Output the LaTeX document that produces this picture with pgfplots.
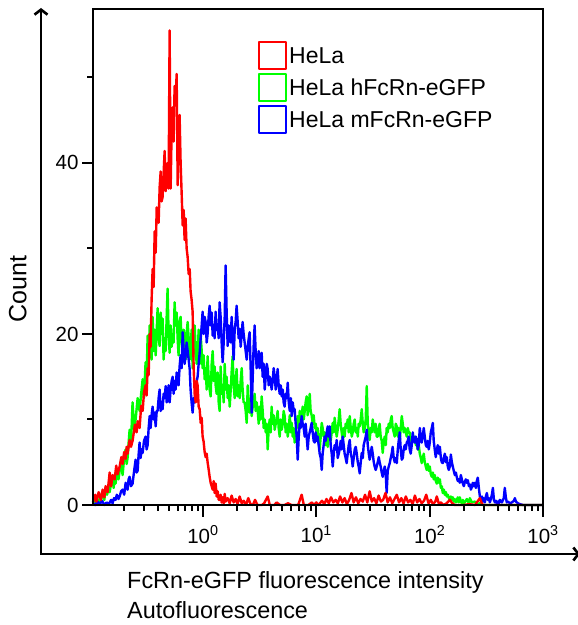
\documentclass[border=0pt]{standalone}
\usepackage{fontspec}
\setmainfont{Liberation Sans}
\usepackage{pgfplots}
\pgfplotsset{compat=1.18}
\usetikzlibrary{arrows.meta,calc}
\begin{document}
\begin{tikzpicture}
\begin{axis}[
  scale only axis, width=450pt, height=496pt,
  xmin=-0.97, xmax=3, ymin=0, ymax=58,
  clip=false,
  axis line style={draw=none},
  tick pos=left, tick align=outside,
  tick style={draw=none},
  major tick length=11pt, minor tick length=6pt,
  xtick={0,1,2,3},
  xticklabels={10\textsuperscript{0},10\textsuperscript{1},10\textsuperscript{2},10\textsuperscript{3}},
  ytick={0,20,40},
  /pgf/number format/assume math mode=true,
  tick label style={font=\fontsize{20.5}{24}\selectfont},
  xticklabel style={yshift=-6pt},
  ylabel={Count},
  ylabel style={font=\fontsize{25}{30}\selectfont, at={(axis description cs:-0.167,0.435)}, anchor=center},
  xlabel={FcRn-eGFP fluorescence intensity\\Autofluorescence},
  xlabel style={font=\fontsize{23.4}{30}\selectfont, align=left, inner sep=0pt,
    at={(axis description cs:0.0756,-0.133)}, anchor=north west},
  legend style={draw=none, fill=none, font=\fontsize{23}{27}\selectfont,
    at={(axis description cs:0.3667,0.935)}, anchor=north west, inner sep=0pt,
    row sep=3pt, nodes={inner sep=2pt}},
  legend cell align=left,
  legend image code/.code={\draw[#1, line width=2pt, fill=none] (0pt,-13.5pt) rectangle (27pt,13.5pt);},
  every axis plot/.append style={line width=2.4pt, line join=round},
]
\addlegendimage{red}\addlegendentry{HeLa}
\addlegendimage{green}\addlegendentry{HeLa hFcRn-eGFP}
\addlegendimage{blue}\addlegendentry{HeLa mFcRn-eGFP}
% HeLa hFcRn-eGFP
\addplot[green, forget plot] coordinates {
(-0.97,0.3) (-0.96,1.0) (-0.947,0.2) (-0.935,0.8) (-0.92,0.3) (-0.912,0.5) (-0.90,1.2) (-0.885,1.0) (-0.87,0.6) (-0.859,1.8)
(-0.845,1.2) (-0.835,2.4) (-0.823,1.5) (-0.81,2.6) (-0.797,3.3) (-0.788,2.0) (-0.779,3.2) (-0.771,2.5) (-0.76,3.8) (-0.745,3.0)
(-0.735,4.0) (-0.722,5.2) (-0.709,3.5) (-0.695,5.5) (-0.682,6.5) (-0.673,4.8) (-0.665,5.5) (-0.656,7.2) (-0.647,8.8) (-0.635,7.0)
(-0.621,12.0) (-0.607,9.0) (-0.594,10.0) (-0.576,12.5) (-0.559,11.0) (-0.545,13.0) (-0.532,14.7) (-0.52,12.5) (-0.506,16.7) (-0.497,14.8)
(-0.488,19.8) (-0.479,16.5) (-0.470,21.0) (-0.462,18.5) (-0.453,17.0) (-0.444,22.0) (-0.435,18.0) (-0.426,20.5) (-0.417,17.5) (-0.400,23.0)
(-0.391,19.5) (-0.382,18.6) (-0.373,22.5) (-0.365,20.0) (-0.356,21.8) (-0.347,17.0) (-0.338,19.5) (-0.329,18.0) (-0.320,22.0) (-0.312,25.3)
(-0.303,20.0) (-0.294,17.8) (-0.285,21.0) (-0.276,18.5) (-0.267,20.0) (-0.259,19.0) (-0.250,23.7) (-0.241,21.0) (-0.232,22.5) (-0.223,19.4)
(-0.215,17.5) (-0.206,21.5) (-0.197,22.0) (-0.188,19.0) (-0.179,18.0) (-0.170,20.5) (-0.162,19.8) (-0.153,17.0) (-0.144,20.0) (-0.135,21.4)
(-0.126,19.5) (-0.117,17.0) (-0.109,18.0) (-0.100,20.5) (-0.091,16.0) (-0.082,18.5) (-0.073,21.0) (-0.064,18.0) (-0.055,16.5) (-0.047,17.4)
(-0.038,20.5) (-0.029,16.5) (-0.020,19.8) (-0.011,18.0) (-0.003,16.0) (0.006,17.5) (0.015,14.7) (0.024,16.0) (0.033,13.5) (0.041,17.4)
(0.050,15.0) (0.059,13.5) (0.068,12.7) (0.077,16.5) (0.086,18.0) (0.095,14.5) (0.103,16.2) (0.112,14.0) (0.121,13.0) (0.130,15.5)
(0.139,12.0) (0.147,11.0) (0.156,16.2) (0.165,13.0) (0.174,14.0) (0.183,12.0) (0.192,16.5) (0.200,13.5) (0.209,15.0) (0.218,12.5)
(0.227,14.0) (0.236,11.5) (0.245,13.5) (0.253,15.5) (0.262,17.4) (0.271,14.0) (0.280,12.5) (0.289,14.5) (0.297,15.9) (0.306,12.7)
(0.315,14.0) (0.324,12.5) (0.333,14.5) (0.342,16.0) (0.350,13.5) (0.359,12.0) (0.368,12.0) (0.377,11.0) (0.386,9.6) (0.395,14.0)
(0.404,12.0) (0.412,10.8) (0.421,12.5) (0.430,10.4) (0.439,11.5) (0.447,12.0) (0.456,13.0) (0.465,11.0) (0.474,12.0) (0.483,11.0)
(0.492,9.5) (0.500,11.5) (0.509,10.0) (0.518,12.7) (0.527,11.0) (0.536,9.0) (0.545,10.0) (0.554,8.5) (0.563,9.5) (0.571,6.5)
(0.580,9.0) (0.589,10.0) (0.598,8.5) (0.606,11.5) (0.615,9.5) (0.624,10.5) (0.633,8.8) (0.642,9.5) (0.650,10.0) (0.659,11.0)
(0.668,9.0) (0.677,8.0) (0.686,10.0) (0.695,8.8) (0.704,9.5) (0.712,11.0) (0.721,10.4) (0.730,8.5) (0.739,9.5) (0.748,8.0)
(0.757,9.0) (0.766,10.5) (0.775,8.5) (0.783,9.6) (0.792,8.0) (0.801,9.0) (0.809,7.3) (0.818,8.5) (0.827,9.5) (0.836,10.4)
(0.845,9.0) (0.854,11.0) (0.862,9.5) (0.871,10.5) (0.880,11.5) (0.889,10.0) (0.898,11.0) (0.906,12.0) (0.915,12.7) (0.924,10.5)
(0.933,11.5) (0.942,13.0) (0.950,11.0) (0.959,10.5) (0.968,9.6) (0.977,10.5) (0.986,9.0) (0.995,9.5) (1.003,8.0) (1.012,9.0)
(1.021,7.5) (1.030,6.5) (1.039,8.0) (1.048,9.6) (1.056,9.0) (1.065,8.0) (1.074,8.5) (1.083,7.0) (1.092,8.0) (1.101,6.8)
(1.110,8.5) (1.118,9.0) (1.127,7.5) (1.136,8.5) (1.145,9.6) (1.154,8.5) (1.162,10.2) (1.171,9.0) (1.180,8.0) (1.189,8.8)
(1.198,10.0) (1.206,11.2) (1.215,9.5) (1.224,8.5) (1.233,7.6) (1.242,9.0) (1.250,8.0) (1.259,9.5) (1.268,9.0) (1.277,10.0)
(1.286,8.5) (1.295,10.4) (1.304,9.0) (1.313,8.0) (1.321,8.5) (1.330,9.5) (1.339,10.0) (1.348,8.5) (1.357,9.0) (1.366,8.0)
(1.374,9.5) (1.383,9.2) (1.392,10.0) (1.401,11.2) (1.410,9.5) (1.418,8.5) (1.427,9.0) (1.436,10.0) (1.445,13.9) (1.454,9.5)
(1.463,8.5) (1.471,7.6) (1.480,9.0) (1.489,8.5) (1.498,10.0) (1.507,9.0) (1.515,8.5) (1.524,9.5) (1.533,8.0) (1.542,8.0)
(1.551,9.0) (1.559,9.5) (1.568,8.0) (1.577,7.5) (1.586,6.1) (1.595,7.5) (1.604,8.0) (1.613,7.0) (1.621,9.0) (1.630,8.5)
(1.639,9.5) (1.648,9.0) (1.657,10.0) (1.665,10.4) (1.674,9.0) (1.683,8.5) (1.692,8.0) (1.701,9.5) (1.710,9.2) (1.719,8.0)
(1.727,9.0) (1.736,7.5) (1.745,9.0) (1.754,10.4) (1.763,9.5) (1.771,8.5) (1.780,9.0) (1.789,8.5) (1.798,8.0) (1.807,9.0)
(1.815,8.5) (1.824,8.5) (1.833,7.8) (1.842,7.3) (1.851,8.0) (1.860,7.5) (1.869,8.0) (1.878,7.0) (1.886,7.6) (1.895,6.5)
(1.904,7.0) (1.913,6.0) (1.922,5.5) (1.930,4.9) (1.939,5.5) (1.948,6.0) (1.957,5.0) (1.966,4.5) (1.974,4.1) (1.983,4.8)
(1.992,4.0) (2.001,4.5) (2.010,3.6) (2.019,3.3) (2.028,3.8) (2.036,3.0) (2.045,3.5) (2.054,2.8) (2.063,2.5) (2.072,3.2)
(2.081,2.6) (2.090,3.0) (2.099,2.0) (2.107,2.2) (2.116,1.4) (2.125,1.8) (2.134,1.2) (2.143,1.5) (2.151,1.0) (2.160,1.2)
(2.169,0.8) (2.178,0.6) (2.187,1.0) (2.196,0.6) (2.204,0.9) (2.213,0.4) (2.222,0.7) (2.231,0.3) (2.239,0.5) (2.248,0.9)
(2.257,0.3) (2.266,0.9) (2.275,0.4) (2.284,0.2) (2.293,0.6) (2.302,0.2) (2.310,0.3) (2.328,0.7) (2.346,0.2) (2.355,0.8)
(2.372,0.3) (2.399,0.4) (2.420,0.1) (2.443,0.2) (2.470,0.0) (3.000,0.0)
};
% HeLa mFcRn-eGFP
\addplot[blue, forget plot] coordinates {
(-0.97,0.2) (-0.95,0.0) (-0.93,0.4) (-0.91,0.1) (-0.89,0.5) (-0.87,0.0) (-0.85,0.3) (-0.83,0.1) (-0.81,0.6) (-0.797,0.2)
(-0.785,0.8) (-0.771,0.6) (-0.760,1.2) (-0.745,0.7) (-0.735,1.0) (-0.722,1.6) (-0.709,1.8) (-0.695,1.2) (-0.682,2.6) (-0.673,2.0)
(-0.665,1.8) (-0.656,3.0) (-0.647,3.3) (-0.635,2.2) (-0.621,2.5) (-0.607,4.0) (-0.594,5.3) (-0.585,3.8) (-0.576,4.0) (-0.568,5.8)
(-0.559,7.3) (-0.550,5.5) (-0.541,6.5) (-0.532,6.1) (-0.520,7.5) (-0.506,8.0) (-0.497,6.5) (-0.488,7.0) (-0.479,9.0) (-0.470,10.4)
(-0.462,9.0) (-0.453,10.5) (-0.444,11.5) (-0.435,10.0) (-0.426,10.8) (-0.417,9.2) (-0.408,11.0) (-0.400,11.0) (-0.391,12.5) (-0.382,13.5)
(-0.373,11.0) (-0.365,12.0) (-0.356,11.2) (-0.347,13.0) (-0.338,12.5) (-0.329,13.9) (-0.320,12.0) (-0.312,12.5) (-0.303,14.0) (-0.294,12.0)
(-0.285,13.5) (-0.276,14.5) (-0.267,15.0) (-0.259,13.0) (-0.250,14.5) (-0.241,13.5) (-0.232,15.5) (-0.223,15.0) (-0.215,14.0) (-0.206,16.2)
(-0.197,17.5) (-0.188,16.0) (-0.179,20.2) (-0.170,18.0) (-0.162,16.5) (-0.153,17.4) (-0.144,19.0) (-0.135,18.0) (-0.126,17.0) (-0.117,15.9)
(-0.109,13.5) (-0.100,12.0) (-0.091,10.8) (-0.082,12.5) (-0.073,12.0) (-0.064,13.9) (-0.055,14.5) (-0.047,15.0) (-0.038,16.5) (-0.029,17.8)
(-0.020,19.5) (-0.011,21.0) (-0.003,22.6) (0.006,20.0) (0.015,22.0) (0.024,21.4) (0.033,19.0) (0.041,20.0) (0.050,22.0) (0.059,23.3)
(0.068,21.0) (0.077,22.5) (0.086,19.8) (0.095,21.0) (0.103,19.5) (0.112,22.6) (0.121,20.5) (0.130,21.0) (0.139,19.5) (0.147,23.7)
(0.156,22.0) (0.165,19.0) (0.174,16.7) (0.183,19.0) (0.192,22.0) (0.200,28.0) (0.209,22.5) (0.218,18.6) (0.227,21.0) (0.236,20.0)
(0.245,19.0) (0.253,22.0) (0.262,19.5) (0.271,17.0) (0.280,20.5) (0.289,21.5) (0.297,23.3) (0.306,21.5) (0.315,19.5) (0.324,20.6)
(0.333,18.5) (0.342,20.0) (0.350,21.4) (0.359,20.0) (0.368,19.0) (0.377,18.0) (0.386,17.0) (0.395,18.5) (0.404,19.5) (0.412,20.2)
(0.421,16.0) (0.430,10.8) (0.439,15.0) (0.447,18.5) (0.456,21.0) (0.465,18.0) (0.474,16.0) (0.483,16.7) (0.492,18.0) (0.500,16.0)
(0.509,17.0) (0.518,17.8) (0.527,15.0) (0.536,16.5) (0.545,13.5) (0.554,15.0) (0.563,16.5) (0.571,15.9) (0.580,14.0) (0.589,15.0)
(0.598,14.5) (0.606,13.5) (0.615,14.5) (0.624,16.0) (0.633,15.0) (0.642,13.5) (0.650,14.5) (0.659,15.9) (0.668,14.0) (0.677,13.0)
(0.686,14.0) (0.695,12.7) (0.704,13.5) (0.712,12.0) (0.721,11.5) (0.730,13.0) (0.739,12.5) (0.748,14.3) (0.757,12.0) (0.766,11.0)
(0.775,12.5) (0.783,10.4) (0.792,12.0) (0.801,11.0) (0.809,11.2) (0.818,9.5) (0.827,8.0) (0.836,5.3) (0.845,8.0) (0.854,9.5)
(0.862,9.0) (0.871,10.4) (0.880,9.5) (0.889,9.0) (0.898,8.0) (0.906,9.5) (0.915,8.0) (0.924,6.5) (0.933,8.0) (0.942,8.5)
(0.950,9.0) (0.959,9.6) (0.968,8.5) (0.977,7.5) (0.986,7.3) (0.995,8.5) (1.003,7.5) (1.012,8.0) (1.021,7.0) (1.030,6.0)
(1.039,5.5) (1.048,4.1) (1.056,6.0) (1.065,7.0) (1.074,8.0) (1.083,7.5) (1.092,8.5) (1.101,9.2) (1.110,8.0) (1.118,9.2)
(1.127,7.0) (1.136,6.0) (1.145,4.5) (1.154,6.0) (1.162,7.0) (1.171,6.5) (1.180,7.6) (1.189,5.5) (1.198,6.0) (1.206,6.5)
(1.215,7.5) (1.224,6.5) (1.233,8.0) (1.242,7.0) (1.250,6.0) (1.259,5.5) (1.268,4.9) (1.277,6.0) (1.286,7.0) (1.295,7.6)
(1.304,6.0) (1.313,5.5) (1.321,4.5) (1.330,5.5) (1.339,6.5) (1.348,6.8) (1.357,6.0) (1.366,5.0) (1.374,4.5) (1.383,3.7)
(1.392,5.0) (1.401,6.1) (1.410,5.5) (1.418,7.0) (1.427,7.5) (1.436,8.0) (1.445,8.8) (1.454,7.0) (1.463,6.0) (1.471,5.3)
(1.480,6.0) (1.489,6.8) (1.498,6.0) (1.507,5.0) (1.515,4.5) (1.524,4.1) (1.533,4.5) (1.542,5.0) (1.551,5.6) (1.559,5.0)
(1.568,4.5) (1.577,3.8) (1.586,3.3) (1.595,4.0) (1.604,4.5) (1.613,3.5) (1.621,1.4) (1.630,4.0) (1.639,4.5) (1.648,4.9)
(1.657,5.5) (1.665,6.0) (1.674,6.8) (1.683,5.5) (1.692,5.0) (1.701,5.5) (1.710,4.9) (1.719,6.5) (1.727,7.5) (1.736,8.5)
(1.745,6.5) (1.754,5.3) (1.763,5.5) (1.771,6.5) (1.780,7.0) (1.789,6.5) (1.798,7.3) (1.807,7.5) (1.815,8.0) (1.824,6.5)
(1.833,6.0) (1.842,7.0) (1.851,8.5) (1.860,7.5) (1.869,7.3) (1.878,8.0) (1.886,7.6) (1.895,6.5) (1.904,7.0) (1.913,9.0)
(1.922,8.0) (1.930,7.3) (1.939,8.0) (1.948,9.0) (1.957,8.0) (1.966,7.0) (1.974,6.8) (1.983,7.5) (1.992,6.5) (2.001,7.3)
(2.010,8.5) (2.019,9.0) (2.028,9.6) (2.036,7.5) (2.045,6.5) (2.054,5.6) (2.063,6.5) (2.072,7.0) (2.081,6.0) (2.090,6.8)
(2.099,5.5) (2.107,5.0) (2.116,4.9) (2.125,5.5) (2.134,6.0) (2.143,5.0) (2.151,5.6) (2.160,4.5) (2.169,4.1) (2.178,4.5)
(2.187,5.9) (2.196,5.0) (2.204,4.5) (2.213,4.0) (2.222,3.5) (2.231,3.8) (2.239,3.3) (2.248,2.8) (2.257,3.0) (2.266,2.6)
(2.275,3.5) (2.284,3.0) (2.293,2.5) (2.302,2.2) (2.310,2.7) (2.319,3.0) (2.328,2.6) (2.337,2.9) (2.346,2.2) (2.355,2.4)
(2.364,1.8) (2.372,2.1) (2.381,2.6) (2.390,2.2) (2.399,2.6) (2.408,2.0) (2.416,2.8) (2.425,3.2) (2.434,2.0) (2.443,1.0)
(2.452,0.6) (2.461,1.0) (2.469,0.4) (2.478,0.8) (2.487,0.3) (2.496,1.0) (2.505,1.4) (2.514,0.6) (2.523,0.8) (2.531,0.3)
(2.540,0.7) (2.549,1.2) (2.558,2.0) (2.567,0.6) (2.576,0.3) (2.585,0.5) (2.593,0.2) (2.602,0.4) (2.611,0.2) (2.619,0.6)
(2.637,0.3) (2.654,0.8) (2.663,2.0) (2.672,0.9) (2.681,0.3) (2.690,0.4) (2.708,0.2) (2.725,0.3) (2.743,0.5) (2.752,0.8)
(2.761,0.4) (2.779,0.2) (2.796,0.1) (2.823,0.0) (3.000,0.0)
};
% HeLa
\addplot[red, forget plot] coordinates {
(-0.97,0.3) (-0.95,1.2) (-0.94,0.4) (-0.92,1.5) (-0.90,0.6) (-0.885,1.8) (-0.87,0.9) (-0.859,2.2) (-0.841,1.5) (-0.823,3.8)
(-0.81,2.2) (-0.797,3.5) (-0.779,3.0) (-0.765,4.6) (-0.753,3.6) (-0.735,4.5) (-0.72,5.6) (-0.709,4.8) (-0.695,6.2) (-0.682,5.4)
(-0.673,6.8) (-0.665,6.0) (-0.647,7.6) (-0.635,6.8) (-0.621,7.5) (-0.60,9.4) (-0.585,8.5) (-0.576,9.8) (-0.559,9.0) (-0.545,11.6)
(-0.532,11.0) (-0.52,13.2) (-0.506,14.0) (-0.497,12.8) (-0.488,16.0) (-0.479,15.2) (-0.470,20.0) (-0.462,18.5) (-0.453,24.0) (-0.444,27.6)
(-0.435,25.5) (-0.426,32.0) (-0.417,29.5) (-0.408,34.8) (-0.400,34.0) (-0.391,33.0) (-0.382,37.2) (-0.373,39.0) (-0.365,35.5) (-0.356,36.0)
(-0.347,38.8) (-0.338,41.4) (-0.329,36.7) (-0.320,38.5) (-0.312,40.0) (-0.303,37.0) (-0.294,55.5) (-0.285,37.0) (-0.276,44.0) (-0.267,46.5)
(-0.259,42.5) (-0.250,49.0) (-0.241,47.5) (-0.232,50.4) (-0.223,37.4) (-0.215,43.0) (-0.206,45.6) (-0.197,40.0) (-0.188,36.5) (-0.179,32.7)
(-0.170,34.5) (-0.162,31.0) (-0.153,33.5) (-0.144,30.0) (-0.135,29.0) (-0.126,27.0) (-0.117,27.6) (-0.109,25.0) (-0.100,24.0) (-0.091,22.6)
(-0.082,16.0) (-0.073,13.0) (-0.064,12.0) (-0.055,14.5) (-0.047,14.0) (-0.038,11.5) (-0.029,11.2) (-0.020,9.6) (-0.011,10.2) (-0.003,8.0)
(0.006,7.4) (0.015,6.2) (0.024,5.6) (0.033,6.0) (0.041,5.0) (0.050,4.2) (0.059,3.3) (0.068,2.6) (0.077,2.2) (0.086,1.8)
(0.095,2.8) (0.103,1.4) (0.112,2.5) (0.121,1.0) (0.130,1.6) (0.139,0.6) (0.147,0.6) (0.156,1.2) (0.165,0.3) (0.174,0.9)
(0.183,0.2) (0.192,1.3) (0.200,0.4) (0.218,0.8) (0.236,0.2) (0.253,1.1) (0.271,0.3) (0.289,0.7) (0.306,0.1) (0.324,1.0)
(0.342,0.2) (0.36,0.5) (0.38,0.0) (0.40,0.8) (0.42,0.1) (0.44,0.0) (0.46,0.6) (0.48,0.0) (0.52,0.0) (0.54,0.2)
(0.571,1.0) (0.59,0.0) (0.63,0.0) (0.65,0.3) (0.68,0.0) (0.72,0.0) (0.75,0.2) (0.78,0.0) (0.84,0.0) (0.871,1.2)
(0.89,0.0) (0.93,0.0) (0.96,0.3) (0.98,0.0) (1.00,0.3) (1.02,0.0) (1.05,0.5) (1.07,0.1) (1.09,0.7) (1.11,0.2)
(1.13,0.9) (1.15,0.3) (1.17,0.6) (1.19,0.2) (1.21,1.0) (1.23,0.3) (1.25,0.8) (1.27,0.1) (1.29,0.6) (1.31,1.4)
(1.33,0.3) (1.35,0.9) (1.37,0.2) (1.39,0.7) (1.41,0.4) (1.43,1.2) (1.45,0.3) (1.471,1.6) (1.49,0.4) (1.51,0.8)
(1.53,0.2) (1.55,1.1) (1.57,0.4) (1.59,0.6) (1.61,1.4) (1.63,0.3) (1.65,0.9) (1.67,0.2) (1.69,0.7) (1.71,1.2)
(1.73,0.3) (1.75,0.8) (1.77,0.2) (1.79,1.0) (1.81,0.3) (1.83,0.6) (1.85,0.1) (1.87,1.1) (1.89,0.3) (1.91,0.7)
(1.93,0.2) (1.95,0.5) (1.97,1.2) (1.99,0.2) (2.01,0.6) (2.03,0.1) (2.05,0.4) (2.063,1.0) (2.08,0.2) (2.10,0.3)
(2.12,0.0) (2.15,0.2) (2.178,0.6) (2.20,0.2) (2.22,0.0) (2.30,0.0) (2.35,0.1) (2.40,0.0) (2.443,0.8) (2.46,0.2)
(2.47,0.0) (3.00,0.0)
};
% frame ticks
\pgfplotsinvokeforeach{0,1,2,3}{\draw[black, line width=2pt] (axis cs:#1,0) -- ([yshift=-12pt]axis cs:#1,0);}
\pgfplotsinvokeforeach{-0.699,-0.523,-0.398,-0.301,-0.222,-0.155,-0.097,-0.046,
    0.301,0.477,0.602,0.699,0.778,0.845,0.903,0.954,
    1.301,1.477,1.602,1.699,1.778,1.845,1.903,1.954,
    2.301,2.477,2.602,2.699,2.778,2.845,2.903,2.954}{\draw[black, line width=2pt] (axis cs:#1,0) -- ([yshift=-6pt]axis cs:#1,0);}
\pgfplotsinvokeforeach{0,20,40}{\draw[black, line width=2pt] (axis cs:-0.97,#1) -- ([xshift=-11pt]axis cs:-0.97,#1);}
\pgfplotsinvokeforeach{10,30,50}{\draw[black, line width=2pt] (axis cs:-0.97,#1) -- ([xshift=-6pt]axis cs:-0.97,#1);}
\coordinate (O) at (rel axis cs:0,0);
\coordinate (T) at (rel axis cs:1,1);
\end{axis}
\draw[black, line width=2.8pt] (O) rectangle (T);
% outer axis arrows
\draw[line width=2.6pt, {Straight Barb[length=5pt,width=13pt]}-{Straight Barb[length=5pt,width=13pt]}]
  ($(O)+(-52pt,497pt)$) |- ($(O)+(487pt,-49pt)$);
\pgfresetboundingbox
\path (O) ++(-93pt,-120pt) rectangle ++(578pt,625pt);
\end{tikzpicture}
\end{document}
